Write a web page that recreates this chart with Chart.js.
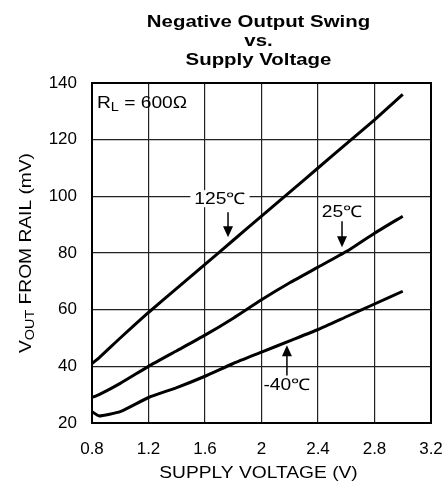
<!DOCTYPE html>
<html>
<head>
<meta charset="utf-8">
<script src="https://cdn.jsdelivr.net/npm/chart.js@4/dist/chart.umd.min.js"></script>
<style>
  html, body { margin: 0; padding: 0; background: #fff; }
  #wrap { width: 446px; height: 487px; }
</style>
</head>
<body>
<div id="wrap"><canvas id="chartSwing"></canvas></div>
<script>
const supplyVoltage = [0.8, 0.85, 1.0, 1.2, 1.4, 1.6, 1.8, 2.0, 2.2, 2.4, 2.6, 2.8, 3.0];
const swing125 = [41, 43, 50, 59, 67.5, 76, 84.5, 93, 101.5, 110, 118.5, 127, 136];
const swing25 = [29, 30, 34, 40, 45.5, 51, 57, 63.5, 69.5, 75, 80.5, 87, 93];
const swingMinus40 = [24, 22.5, 24, 29, 32.5, 36.5, 41, 45, 49, 53, 57.5, 62, 66.5];

const xTicks = [0.8, 1.2, 1.6, 2.0, 2.4, 2.8, 3.2];
const xTickLabels = ['0.8', '1.2', '1.6', '2', '2.4', '2.8', '3.2'];
const yTicks = [20, 40, 60, 80, 100, 120, 140];

const titleLines = ['Negative Output Swing', 'vs.', 'Supply Voltage'];
const FONT = 'Arial, "Liberation Sans", sans-serif';
const STRETCH = 1.2;

const toPoints = (ys) => supplyVoltage.map((x, i) => ({ x, y: ys[i] }));

// labels + arrows: [text, labelX, labelY, arrowX, arrowFromY, arrowToY, whiteBox]
const curveNotes = [
  ['125\u2103', 1.706, 99, 1.763, 94.4, 85.6, true],
  ['25\u2103', 2.57, 94.4, 2.57, 91.2, 82, false],
  ['-40\u2103', 2.18, 33.3, 2.18, 36.8, 47.4, false],
];

// text drawn a bit wider, like the original print
function wideText(ctx, text, x, y, align) {
  const w = ctx.measureText(text).width * STRETCH;
  let left = x;
  if (align === 'center') left = x - w / 2;
  if (align === 'right') left = x - w;
  ctx.save();
  ctx.textAlign = 'left';
  ctx.translate(left, y);
  ctx.scale(STRETCH, 1);
  ctx.fillText(text, 0, 0);
  ctx.restore();
  return w;
}

function wideRuns(ctx, runs, x, y, align) {
  let total = 0;
  runs.forEach(([t, f]) => { ctx.font = f; total += ctx.measureText(t).width * STRETCH; });
  let px = align === 'center' ? x - total / 2 : x;
  runs.forEach(([t, f, dy]) => {
    ctx.font = f;
    px += wideText(ctx, t, px, y + dy, 'left');
  });
}

const overlay = {
  id: 'overlay',
  afterDraw(chart) {
    const { ctx, chartArea: a, scales: { x, y } } = chart;
    ctx.save();
    ctx.fillStyle = '#000';
    ctx.textBaseline = 'middle';
    const cx = (a.left + a.right) / 2 - 3;

    // title
    ctx.font = `bold 17px ${FONT}`;
    titleLines.forEach((t, i) => wideText(ctx, t, cx, 22 + i * 19, 'center'));

    // x axis title
    ctx.font = `16px ${FONT}`;
    wideText(ctx, 'SUPPLY VOLTAGE (V)', cx, 474, 'center');

    const big = `16px ${FONT}`, small = `12px ${FONT}`;

    // y axis title with subscript
    ctx.save();
    ctx.translate(25, 253);
    ctx.rotate(-Math.PI / 2);
    ctx.textBaseline = 'alphabetic';
    wideRuns(ctx, [['V', big, 0], ['OUT', small, 3], [' FROM RAIL (mV)', big, 0]], 0, 6, 'center');
    ctx.restore();

    // R_L label
    ctx.textBaseline = 'alphabetic';
    wideRuns(ctx, [['R', big, 0], ['L', small, 3], [' = 600\u03A9', big, 0]], a.left + 5, 108, 'left');

    // curve notes
    curveNotes.forEach(([text, lx, ly, ax, ay0, ay1, box]) => {
      const tx = x.getPixelForValue(lx);
      const ty = y.getPixelForValue(ly);
      ctx.font = `16px ${FONT}`;
      ctx.textBaseline = 'middle';
      if (box) {
        const tw = ctx.measureText(text).width * STRETCH;
        ctx.fillStyle = '#fff';
        ctx.fillRect(tx - tw / 2 - 4, ty - 9, tw + 8, 17);
        ctx.fillStyle = '#000';
      }
      wideText(ctx, text, tx, ty, 'center');

      const axp = x.getPixelForValue(ax);
      const y0 = y.getPixelForValue(ay0);
      const y1 = y.getPixelForValue(ay1);
      const dir = y1 > y0 ? 1 : -1;
      ctx.strokeStyle = '#000';
      ctx.lineWidth = 1.5;
      ctx.beginPath();
      ctx.moveTo(axp, y0);
      ctx.lineTo(axp, y1 - dir * 8);
      ctx.stroke();
      ctx.beginPath();
      ctx.moveTo(axp, y1);
      ctx.lineTo(axp - 5, y1 - dir * 11);
      ctx.lineTo(axp + 5, y1 - dir * 11);
      ctx.closePath();
      ctx.fill();
    });

    // plot frame
    ctx.strokeStyle = '#000';
    ctx.lineWidth = 2;
    ctx.strokeRect(a.left, a.top, a.right - a.left, a.bottom - a.top);
    ctx.restore();
  },
};

const lineStyle = {
  borderColor: '#000',
  backgroundColor: '#000',
  borderWidth: 3,
  pointRadius: 0,
  tension: 0.15,
  fill: false,
};

new Chart(document.getElementById('chartSwing').getContext('2d'), {
  type: 'line',
  data: {
    datasets: [
      { label: '125C', data: toPoints(swing125), ...lineStyle },
      { label: '25C', data: toPoints(swing25), ...lineStyle },
      { label: '-40C', data: toPoints(swingMinus40), ...lineStyle },
    ],
  },
  options: {
    responsive: true,
    maintainAspectRatio: false,
    animation: false,
    layout: { padding: { top: 83, right: 15, bottom: 0, left: 0 } },
    scales: {
      x: {
        type: 'linear',
        min: 0.8,
        max: 3.2,
        afterBuildTicks: (scale) => { scale.ticks = xTicks.map((v) => ({ value: v })); },
        afterFit: (scale) => {
          scale.height = 64;
          scale.paddingLeft = 0;
          scale.paddingRight = 0;
        },
        grid: { color: '#222', lineWidth: 1.2, drawTicks: false },
        border: { display: false },
        ticks: {
          color: '#000',
          font: { family: FONT, size: 17 },
          padding: 16,
          maxRotation: 0,
          callback: (v, i) => xTickLabels[i],
        },
      },
      y: {
        min: 20,
        max: 140,
        afterBuildTicks: (scale) => { scale.ticks = yTicks.map((v) => ({ value: v })); },
        afterFit: (scale) => {
          scale.width = 92;
          scale.paddingTop = 0;
          scale.paddingBottom = 0;
        },
        grid: { color: '#222', lineWidth: 1.2, drawTicks: false },
        border: { display: false },
        ticks: {
          color: '#000',
          font: { family: FONT, size: 17 },
          padding: 15,
        },
      },
    },
    plugins: {
      legend: { display: false },
      title: { display: false },
      tooltip: { enabled: false },
    },
  },
  plugins: [overlay],
});
</script>
</body>
</html>
